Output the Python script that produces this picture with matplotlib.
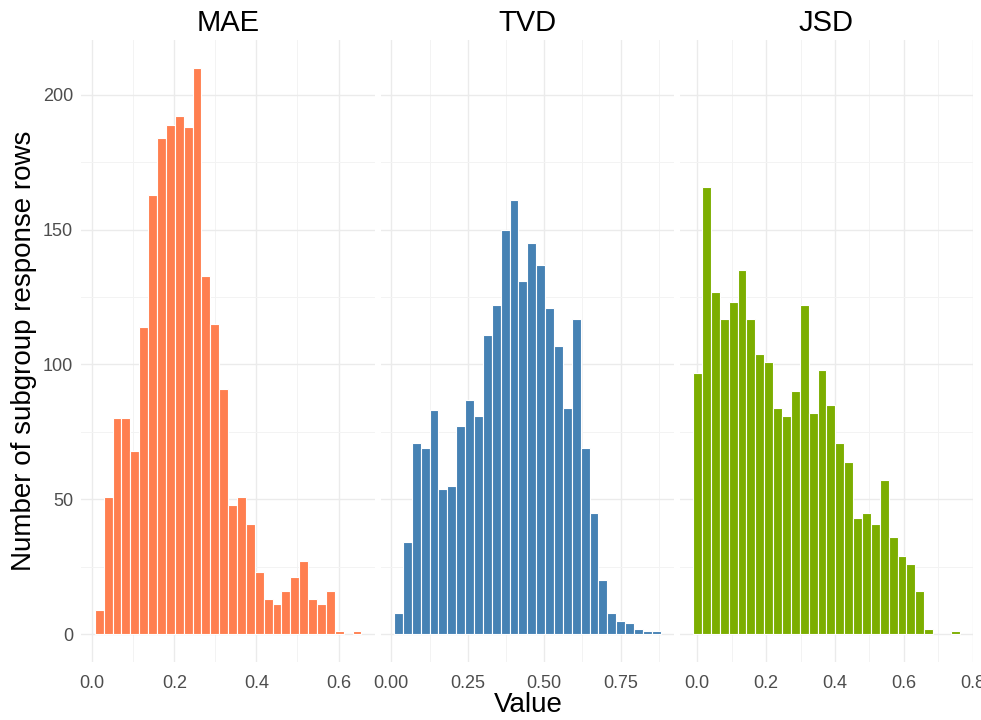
import numpy as np
import matplotlib
matplotlib.use("Agg")
from matplotlib import pyplot as plt
from matplotlib.ticker import MultipleLocator, FormatStrFormatter

# histogram counts (30 bins each)
mae_counts = [9, 51, 80, 80, 68, 114, 163, 184, 189, 192, 188, 210, 133, 115, 91,
              48, 51, 41, 23, 13, 11, 16, 21, 27, 13, 11, 16, 1, 0, 1]
tvd_counts = [8, 34, 71, 69, 83, 54, 55, 77, 87, 81, 111, 122, 150, 161, 131,
              145, 137, 121, 107, 84, 117, 69, 45, 20, 8, 5, 4, 2, 1, 1]
jsd_counts = [97, 166, 127, 117, 123, 135, 117, 104, 101, 84, 81, 90, 122, 82, 98,
              85, 71, 64, 43, 45, 41, 57, 36, 29, 26, 16, 2, 0, 0, 1]

# first and last bin centre of each histogram
mae_range = (0.017, 0.645)
tvd_range = (0.023, 0.866)
jsd_range = (0.001, 0.750)

panels = ["MAE", "TVD", "JSD"]
counts = [mae_counts, tvd_counts, jsd_counts]
ranges = [mae_range, tvd_range, jsd_range]
colors = ["#FF7F50", "#4682B4", "#7CAE00"]
x_major = [0.2, 0.25, 0.2]
x_fmt = ["%.1f", "%.2f", "%.1f"]

plt.rcParams["font.family"] = ["Liberation Sans", "DejaVu Sans"]

fig, axs = plt.subplots(1, 3, figsize=(9.81, 7.2), dpi=100, sharey=True)
fig.subplots_adjust(left=0.083, right=0.992, top=0.945, bottom=0.08, wspace=0.02)

ymax = max(max(c) for c in counts)
ylim = (-0.05 * ymax, 1.05 * ymax)

for ax, name, cnt, (lo, hi), col, step, fmt in zip(axs, panels, counts, ranges,
                                                   colors, x_major, x_fmt):
    cnt = np.array(cnt)
    centres = np.linspace(lo, hi, len(cnt))
    w = centres[1] - centres[0]
    mask = cnt > 0
    ax.bar(centres[mask], cnt[mask], width=w, color=col,
           edgecolor="white", linewidth=0.8, zorder=2)

    xmin, xmax = lo - w / 2, hi + w / 2
    pad = 0.05 * (xmax - xmin)
    ax.set_xlim(xmin - pad, xmax + pad)
    ax.set_ylim(*ylim)

    ax.xaxis.set_major_locator(MultipleLocator(step))
    ax.xaxis.set_minor_locator(MultipleLocator(step / 2))
    ax.xaxis.set_major_formatter(FormatStrFormatter(fmt))
    ax.yaxis.set_major_locator(MultipleLocator(50))
    ax.yaxis.set_minor_locator(MultipleLocator(25))
    ax.grid(True, which="major", color="#EBEBEB", linewidth=1.0, zorder=0)
    ax.grid(True, which="minor", color="#F3F3F3", linewidth=0.7, zorder=0)
    ax.set_axisbelow(True)
    for s in ax.spines.values():
        s.set_visible(False)
    ax.tick_params(which="both", length=0, labelsize=13, labelcolor="#4D4D4D")
    ax.tick_params(axis="x", pad=9)
    ax.tick_params(axis="y", pad=6)
    ax.set_title(name, fontsize=21, pad=6)

axs[0].set_ylabel("Number of subgroup response rows", fontsize=20)
fig.text(0.539, 0.003, "Value", ha="center", va="bottom", fontsize=20)

plt.savefig("out.png", dpi=100)
